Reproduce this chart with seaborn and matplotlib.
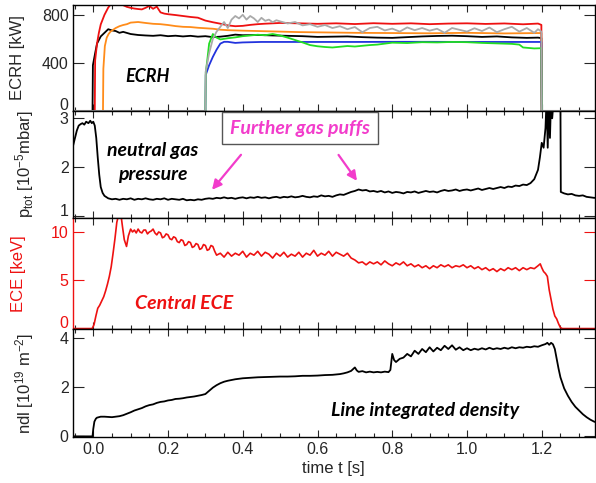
import numpy as np
import matplotlib
matplotlib.use("Agg")
import matplotlib.pyplot as plt
from matplotlib.ticker import MultipleLocator, FormatStrFormatter
from matplotlib.transforms import ScaledTranslation
import seaborn as sns

# === Data: (time [s], value) ===
ecrh_red = [(-0.06, 0), (0.004, 0), (0.005, 420), (0.01, 560), (0.015, 650), (0.02, 720), (0.03, 800),
            (0.04, 860), (0.05, 900), (0.06, 910), (0.07, 905), (0.08, 880), (0.09, 866), (0.10, 858),
            (0.11, 852), (0.12, 848), (0.13, 845), (0.14, 858), (0.15, 874), (0.16, 850), (0.17, 868),
            (0.18, 820), (0.19, 810), (0.20, 805), (0.22, 798), (0.24, 790), (0.26, 782), (0.28, 776),
            (0.30, 752), (0.32, 738), (0.34, 726), (0.36, 712), (0.38, 705), (0.40, 708), (0.42, 716),
            (0.44, 722), (0.46, 726), (0.48, 729), (0.50, 732), (0.55, 729), (0.60, 725), (0.65, 729),
            (0.70, 723), (0.75, 730), (0.80, 725), (0.85, 729), (0.90, 722), (0.95, 727), (1.00, 729),
            (1.05, 724), (1.10, 728), (1.15, 721), (1.19, 727), (1.199, 716), (1.2, 0), (1.36, 0)]

ecrh_orange = [(-0.06, 0), (0.026, 0), (0.027, 350), (0.031, 540), (0.036, 610), (0.041, 640), (0.046, 660),
               (0.06, 690), (0.07, 705), (0.08, 715), (0.09, 722), (0.10, 735), (0.12, 740), (0.14, 732),
               (0.16, 725), (0.18, 722), (0.20, 715), (0.22, 706), (0.24, 700), (0.26, 698), (0.28, 692),
               (0.30, 688), (0.32, 684), (0.34, 676), (0.36, 672), (0.40, 668), (0.45, 664), (0.50, 660),
               (0.55, 656), (0.60, 654), (0.70, 650), (0.80, 648), (0.90, 646), (1.00, 650), (1.10, 645),
               (1.19, 648), (1.199, 648), (1.2, 0), (1.36, 0)]

ecrh_black = [(-0.06, 0), (-0.002, 0), (-0.001, 380), (0.005, 480), (0.01, 560), (0.02, 620), (0.03, 650),
              (0.04, 680), (0.05, 670), (0.06, 665), (0.07, 650), (0.08, 658), (0.10, 640), (0.12, 632),
              (0.14, 628), (0.16, 625), (0.18, 630), (0.20, 622), (0.22, 626), (0.24, 620), (0.26, 625),
              (0.28, 618), (0.30, 622), (0.32, 614), (0.34, 618), (0.36, 625), (0.38, 635), (0.40, 630),
              (0.44, 632), (0.48, 628), (0.52, 625), (0.56, 622), (0.60, 616), (0.64, 618), (0.68, 620),
              (0.72, 614), (0.76, 610), (0.80, 608), (0.84, 614), (0.88, 620), (0.92, 624), (0.96, 626),
              (1.00, 622), (1.04, 616), (1.08, 620), (1.12, 612), (1.16, 608), (1.19, 610), (1.199, 606),
              (1.2, 0), (1.36, 0)]

ecrh_blue = [(-0.06, 0), (0.300, 0), (0.301, 300), (0.31, 380), (0.32, 450), (0.33, 510), (0.34, 560),
             (0.35, 575), (0.36, 575), (0.38, 566), (0.40, 570), (0.45, 574), (0.50, 574), (0.60, 574),
             (0.70, 574), (0.80, 575), (0.90, 575), (1.00, 574), (1.10, 574), (1.199, 574), (1.2, 0), (1.36, 0)]

ecrh_green = [(-0.06, 0), (0.300, 0), (0.301, 320), (0.305, 420), (0.31, 560), (0.32, 640), (0.33, 610),
              (0.34, 595), (0.35, 600), (0.36, 605), (0.38, 612), (0.40, 622), (0.42, 628), (0.44, 634),
              (0.46, 630), (0.48, 640), (0.50, 628), (0.52, 610), (0.54, 590), (0.56, 570), (0.58, 548),
              (0.60, 538), (0.62, 532), (0.64, 528), (0.66, 534), (0.68, 540), (0.70, 536), (0.72, 542),
              (0.74, 548), (0.76, 552), (0.78, 560), (0.80, 568), (0.84, 565), (0.88, 572), (0.92, 570),
              (0.96, 574), (1.00, 572), (1.04, 566), (1.08, 562), (1.12, 558), (1.14, 552), (1.15, 528),
              (1.18, 520), (1.199, 522), (1.2, 0), (1.36, 0)]

ecrh_gray = [(-0.06, 0), (0.300, 0), (0.301, 330), (0.31, 480), (0.32, 600), (0.33, 660), (0.34, 700),
             (0.35, 740), (0.36, 690), (0.37, 760), (0.38, 790), (0.39, 770), (0.40, 800), (0.41, 760),
             (0.42, 790), (0.43, 770), (0.44, 740), (0.45, 775), (0.46, 750), (0.47, 760), (0.48, 738),
             (0.49, 755), (0.50, 745), (0.52, 728), (0.54, 740), (0.56, 712), (0.58, 722), (0.60, 700),
             (0.62, 715), (0.64, 690), (0.66, 705), (0.68, 680), (0.70, 698), (0.72, 655), (0.74, 690),
             (0.76, 700), (0.78, 670), (0.80, 685), (0.82, 660), (0.84, 695), (0.86, 672), (0.88, 690),
             (0.90, 668), (0.92, 684), (0.94, 650), (0.96, 690), (0.98, 675), (1.00, 660), (1.02, 688),
             (1.04, 665), (1.06, 694), (1.08, 655), (1.10, 680), (1.12, 700), (1.14, 660), (1.16, 690),
             (1.18, 650), (1.19, 680), (1.199, 660), (1.2, 0), (1.36, 0)]

p_tot = [(-0.056, 2.38), (-0.049, 2.6), (-0.044, 2.75), (-0.039, 2.85), (-0.034, 2.88), (-0.029, 2.9),
         (-0.024, 2.87), (-0.019, 2.93), (-0.013, 2.9), (-0.008, 2.95), (-0.004, 2.9), (0.0, 2.93),
         (0.004, 2.85), (0.008, 2.6), (0.012, 2.2), (0.016, 1.85), (0.02, 1.6), (0.025, 1.48), (0.03, 1.42),
         (0.04, 1.37), (0.05, 1.35), (0.06, 1.36), (0.07, 1.34), (0.08, 1.36), (0.09, 1.35), (0.10, 1.37),
         (0.11, 1.34), (0.12, 1.36), (0.13, 1.35), (0.14, 1.37), (0.15, 1.35), (0.16, 1.34), (0.17, 1.36),
         (0.18, 1.35), (0.19, 1.37), (0.20, 1.34), (0.21, 1.36), (0.22, 1.35), (0.23, 1.34), (0.24, 1.36),
         (0.25, 1.33), (0.26, 1.34), (0.27, 1.33), (0.28, 1.35), (0.29, 1.34), (0.30, 1.36), (0.31, 1.37),
         (0.32, 1.36), (0.33, 1.38), (0.34, 1.37), (0.35, 1.39), (0.36, 1.37), (0.37, 1.38), (0.38, 1.36),
         (0.39, 1.38), (0.40, 1.39), (0.41, 1.37), (0.42, 1.39), (0.43, 1.38), (0.44, 1.40), (0.45, 1.38),
         (0.46, 1.39), (0.47, 1.37), (0.48, 1.39), (0.49, 1.40), (0.50, 1.38), (0.51, 1.40), (0.52, 1.39),
         (0.53, 1.41), (0.54, 1.39), (0.55, 1.40), (0.56, 1.42), (0.57, 1.40), (0.58, 1.39), (0.59, 1.41),
         (0.60, 1.40), (0.61, 1.43), (0.62, 1.41), (0.63, 1.42), (0.64, 1.40), (0.65, 1.43), (0.66, 1.45),
         (0.67, 1.44), (0.68, 1.47), (0.69, 1.50), (0.70, 1.52), (0.71, 1.55), (0.72, 1.53), (0.73, 1.54),
         (0.74, 1.51), (0.75, 1.52), (0.76, 1.50), (0.77, 1.52), (0.78, 1.49), (0.79, 1.51), (0.80, 1.48),
         (0.81, 1.50), (0.82, 1.49), (0.83, 1.47), (0.84, 1.50), (0.85, 1.49), (0.86, 1.51), (0.87, 1.48),
         (0.88, 1.50), (0.89, 1.52), (0.90, 1.50), (0.91, 1.51), (0.92, 1.49), (0.93, 1.52), (0.94, 1.54),
         (0.95, 1.52), (0.96, 1.53), (0.97, 1.55), (0.98, 1.52), (0.99, 1.54), (1.00, 1.55), (1.01, 1.53),
         (1.02, 1.55), (1.03, 1.57), (1.04, 1.54), (1.05, 1.56), (1.06, 1.58), (1.07, 1.56), (1.08, 1.58),
         (1.09, 1.60), (1.10, 1.58), (1.11, 1.61), (1.12, 1.60), (1.13, 1.63), (1.14, 1.62), (1.15, 1.65),
         (1.16, 1.64), (1.17, 1.68), (1.18, 1.76), (1.19, 1.95), (1.195, 2.2), (1.20, 2.5), (1.205, 2.4),
         (1.21, 2.8), (1.213, 3.4), (1.216, 2.4), (1.219, 3.4), (1.222, 2.6), (1.225, 3.4), (1.228, 3.0),
         (1.232, 3.4), (1.25, 3.4), (1.251, 1.5), (1.26, 1.47), (1.27, 1.45), (1.28, 1.46), (1.29, 1.43),
         (1.30, 1.42), (1.31, 1.43), (1.32, 1.40), (1.33, 1.39), (1.34, 1.38), (1.35, 1.38)]

ece = [(-0.06, 0.0), (-0.003, 0.0), (0.002, 0.4), (0.007, 1.3), (0.012, 2.1), (0.017, 2.4), (0.022, 2.8),
       (0.028, 3.3), (0.033, 3.9), (0.038, 4.6), (0.043, 5.4), (0.048, 6.4), (0.053, 7.8), (0.058, 9.3),
       (0.063, 11.0), (0.068, 11.8), (0.074, 11.8), (0.078, 10.6), (0.083, 9.2), (0.089, 8.5), (0.094, 9.6),
       (0.10, 10.3), (0.105, 10.0), (0.11, 10.2), (0.115, 9.9), (0.12, 10.3), (0.125, 10.0), (0.13, 9.9),
       (0.135, 10.2), (0.14, 10.2), (0.145, 9.8), (0.15, 10.0), (0.155, 10.1), (0.16, 10.3), (0.165, 9.9),
       (0.17, 9.7), (0.175, 10.0), (0.18, 9.9), (0.185, 9.4), (0.19, 9.5), (0.195, 9.8), (0.20, 9.7),
       (0.205, 9.3), (0.21, 9.2), (0.215, 9.5), (0.22, 9.4), (0.225, 9.0), (0.23, 8.9), (0.235, 9.2),
       (0.24, 9.1), (0.245, 8.6), (0.25, 8.7), (0.255, 9.0), (0.26, 8.9), (0.265, 8.4), (0.27, 8.5),
       (0.275, 8.8), (0.28, 8.7), (0.285, 8.2), (0.29, 8.3), (0.295, 8.7), (0.30, 8.6), (0.305, 8.1),
       (0.31, 8.2), (0.315, 8.6), (0.32, 8.5), (0.325, 8.0), (0.33, 7.6), (0.34, 7.8), (0.35, 7.4),
       (0.36, 7.9), (0.37, 7.5), (0.38, 7.8), (0.39, 7.6), (0.40, 8.0),
       (0.41, 7.4), (0.42, 7.8), (0.43, 7.6), (0.44, 8.0), (0.45, 7.5), (0.46, 7.9), (0.47, 7.7), (0.48, 7.3),
       (0.49, 7.8), (0.50, 7.5), (0.51, 7.9), (0.52, 7.4), (0.53, 7.7), (0.54, 7.5), (0.55, 7.9), (0.56, 7.4),
       (0.57, 7.8), (0.58, 7.6), (0.59, 8.1), (0.60, 7.5), (0.61, 7.8), (0.62, 7.6), (0.63, 8.0), (0.64, 7.5),
       (0.65, 7.9), (0.66, 7.7), (0.67, 7.5), (0.68, 7.8), (0.69, 7.3), (0.70, 7.1), (0.71, 6.8), (0.72, 6.9),
       (0.73, 6.6), (0.74, 6.9), (0.75, 6.7), (0.76, 6.9), (0.77, 6.6), (0.78, 7.0), (0.79, 6.7), (0.80, 6.5),
       (0.81, 6.8), (0.82, 6.6), (0.83, 6.9), (0.84, 6.5), (0.85, 6.7), (0.86, 6.4), (0.87, 6.6), (0.88, 6.3),
       (0.89, 6.5), (0.90, 6.2), (0.91, 6.5), (0.92, 6.3), (0.93, 6.6), (0.94, 6.4), (0.95, 6.6), (0.96, 6.3),
       (0.97, 6.5), (0.98, 6.4), (0.99, 6.6), (1.00, 6.3), (1.01, 6.5), (1.02, 6.2), (1.03, 6.4), (1.04, 6.1),
       (1.05, 6.3), (1.06, 6.0), (1.07, 6.2), (1.08, 5.9), (1.09, 6.2), (1.10, 6.0), (1.11, 6.3), (1.12, 6.1),
       (1.13, 6.3), (1.14, 6.0), (1.15, 6.3), (1.16, 6.1), (1.17, 6.3), (1.18, 6.2), (1.19, 6.5), (1.196, 6.7),
       (1.20, 6.3), (1.205, 5.9), (1.21, 5.7), (1.215, 5.4), (1.22, 4.0), (1.225, 3.0), (1.23, 2.0),
       (1.235, 1.3), (1.24, 1.0), (1.245, 0.5), (1.25, 0.1), (1.255, 0.0), (1.36, 0.0)]

ndl = [(-0.06, 0.0), (-0.002, 0.0), (0.0, 0.3), (0.003, 0.6), (0.007, 0.72), (0.01, 0.76), (0.02, 0.8),
       (0.03, 0.8), (0.04, 0.79), (0.05, 0.78), (0.06, 0.8), (0.07, 0.82), (0.08, 0.86), (0.09, 0.92),
       (0.10, 0.98), (0.11, 1.05), (0.12, 1.10), (0.13, 1.15), (0.14, 1.22), (0.15, 1.27), (0.16, 1.30),
       (0.17, 1.36), (0.18, 1.40), (0.19, 1.42), (0.20, 1.46), (0.21, 1.48), (0.22, 1.52), (0.23, 1.53),
       (0.24, 1.55), (0.25, 1.58), (0.26, 1.60), (0.27, 1.62), (0.28, 1.65), (0.29, 1.68), (0.30, 1.72),
       (0.31, 1.85), (0.32, 1.98), (0.33, 2.08), (0.34, 2.16), (0.35, 2.22), (0.36, 2.26), (0.37, 2.29),
       (0.38, 2.32), (0.39, 2.34), (0.40, 2.36), (0.42, 2.38), (0.44, 2.40), (0.46, 2.41), (0.48, 2.42),
       (0.50, 2.43), (0.52, 2.43), (0.54, 2.44), (0.56, 2.46), (0.58, 2.46), (0.60, 2.47), (0.62, 2.49),
       (0.64, 2.50), (0.66, 2.53), (0.67, 2.56), (0.68, 2.60), (0.69, 2.66), (0.70, 2.80), (0.705, 2.68),
       (0.71, 2.62), (0.72, 2.65), (0.73, 2.60), (0.74, 2.63), (0.75, 2.60), (0.76, 2.62), (0.77, 2.60),
       (0.78, 2.63), (0.79, 2.61), (0.795, 2.70), (0.80, 3.35), (0.805, 3.10), (0.81, 3.02), (0.82, 3.15),
       (0.83, 3.20), (0.84, 3.35), (0.85, 3.25), (0.86, 3.48), (0.87, 3.35), (0.88, 3.55), (0.89, 3.42),
       (0.90, 3.62), (0.91, 3.45), (0.92, 3.60), (0.93, 3.50), (0.94, 3.68), (0.95, 3.55), (0.96, 3.70),
       (0.97, 3.52), (0.98, 3.62), (0.99, 3.50), (1.00, 3.58), (1.01, 3.50), (1.02, 3.56), (1.03, 3.52),
       (1.04, 3.58), (1.05, 3.53), (1.06, 3.60), (1.07, 3.54), (1.08, 3.58), (1.09, 3.55), (1.10, 3.60),
       (1.11, 3.56), (1.12, 3.62), (1.13, 3.58), (1.14, 3.62), (1.15, 3.60), (1.16, 3.64), (1.17, 3.62),
       (1.18, 3.66), (1.19, 3.64), (1.20, 3.70), (1.21, 3.75), (1.215, 3.80), (1.22, 3.72), (1.225, 3.80),
       (1.23, 3.74), (1.235, 3.55), (1.24, 3.15), (1.245, 2.75), (1.25, 2.40), (1.26, 1.95), (1.27, 1.65),
       (1.28, 1.40), (1.29, 1.20), (1.30, 1.05), (1.31, 0.90), (1.32, 0.78), (1.33, 0.68), (1.34, 0.60),
       (1.35, 0.55)]

ecrh_series = [(ecrh_black, "black"), (ecrh_orange, "#ff8c1a"), (ecrh_red, "#ee1111"),
               (ecrh_blue, "#2233dd"), (ecrh_green, "#22dd22"), (ecrh_gray, "#aaaaaa")]

x_ticks = [0.0, 0.2, 0.4, 0.6, 0.8, 1.0, 1.2]
magenta = "#f23ccb"
red = "#ee1111"

# === Style ===
sns.set_theme(style="ticks")
plt.rcParams["font.family"] = ["Liberation Sans", "DejaVu Sans"]
plt.rcParams["mathtext.fontset"] = "custom"
plt.rcParams["mathtext.rm"] = "Liberation Sans"
plt.rcParams["mathtext.it"] = "Liberation Sans:italic"


def split(points):
    t, v = zip(*points)
    return np.array(t), np.array(v)


fig, axes = plt.subplots(4, 1, figsize=(5.96, 4.83), dpi=100, sharex=True,
                         gridspec_kw=dict(height_ratios=[106, 107, 111, 108], hspace=0))
fig.subplots_adjust(left=0.122, right=0.998, top=0.99, bottom=0.095)
ax1, ax2, ax3, ax4 = axes

for pts, col in ecrh_series:
    t, v = split(pts)
    sns.lineplot(x=t, y=v, ax=ax1, color=col, lw=1.3, estimator=None, sort=False)

t, v = split(p_tot)
sns.lineplot(x=t, y=v, ax=ax2, color="black", lw=1.3, estimator=None, sort=False)
t, v = split(ece)
sns.lineplot(x=t, y=v, ax=ax3, color=red, lw=1.2, estimator=None, sort=False)
t, v = split(ndl)
sns.lineplot(x=t, y=v, ax=ax4, color="black", lw=1.3, estimator=None, sort=False)

ax1.set_ylim(0, 883)
ax1.set_yticks([0, 400, 800])
ax2.set_ylim(0.97, 3.15)
ax2.set_yticks([1, 2, 3])
ax3.set_ylim(-0.05, 11.45)
ax3.set_yticks([0, 5, 10])
ax4.set_ylim(-0.03, 4.36)
ax4.set_yticks([0, 2, 4])

for ax in axes:
    ax.set_xlim(-0.055, 1.342)
    ax.set_xticks(x_ticks)
    ax.xaxis.set_minor_locator(MultipleLocator(0.05))
    ax.tick_params(axis="x", which="both", direction="in", top=True, bottom=True, labelsize=11.5)
    ax.tick_params(axis="x", which="major", length=5, width=0.8)
    ax.tick_params(axis="x", which="minor", length=3, width=0.8)
    ax.tick_params(axis="y", direction="in", left=True, right=True, length=8, width=0.8,
                   labelsize=11.5, pad=3)
    for s in ax.spines.values():
        s.set_linewidth(1.0)
        s.set_color("black")
    ax.set_xlabel("")

# lift the lowest y label of the upper panels off the panel boundary
lift = ScaledTranslation(0, 5 / 72, fig.dpi_scale_trans)
for ax in (ax1, ax2, ax3):
    lab = ax.get_yticklabels()[0]
    lab.set_transform(lab.get_transform() + lift)

ax4.xaxis.set_major_formatter(FormatStrFormatter("%.1f"))
ax4.set_xlabel("time t [s]", fontsize=12, labelpad=3)

ax3.tick_params(axis="y", colors=red, which="major")
ax3.spines["left"].set_color(red)

ax1.set_ylabel("ECRH [kW]", fontsize=12)
ax2.set_ylabel("p$_{\\rm tot}$ [10$^{-5}$mbar]", fontsize=12)
ax3.set_ylabel("ECE [keV]", fontsize=12, color=red)
ax4.set_ylabel("ndl [10$^{19}$ m$^{-2}$]", fontsize=12)
ax1.yaxis.set_label_coords(-0.092, 0.5)
ax2.yaxis.set_label_coords(-0.07, 0.5)
ax3.yaxis.set_label_coords(-0.09, 0.5)
ax4.yaxis.set_label_coords(-0.07, 0.5)

note = dict(fontweight="bold", style="italic", family=["Lato", "DejaVu Sans"])
ax1.text(0.145, 290, "ECRH", ha="center", va="center", color="black", fontsize=13, **note)
ax2.text(0.16, 2.1, "neutral gas\npressure", ha="center", va="center", color="black",
         linespacing=1.45, fontsize=14, **note)
ax2.text(0.553, 2.8, "Further gas puffs", ha="center", va="center", color=magenta, fontsize=14,
         bbox=dict(boxstyle="square,pad=0.4", fc="white", ec="#555555", lw=1), **note)
ax2.annotate("", xy=(0.313, 1.5), xytext=(0.40, 2.3),
             arrowprops=dict(arrowstyle="-|>", color=magenta, lw=1.6, mutation_scale=14))
ax2.annotate("", xy=(0.71, 1.68), xytext=(0.652, 2.3),
             arrowprops=dict(arrowstyle="-|>", color=magenta, lw=1.6, mutation_scale=14))
ax3.text(0.243, 2.6, "Central ECE", ha="center", va="center", color=red, fontsize=14, **note)
ax4.text(0.888, 1.04, "Line integrated density", ha="center", va="center", color="black",
         fontsize=14, **note)

plt.savefig("out.png", dpi=100)
